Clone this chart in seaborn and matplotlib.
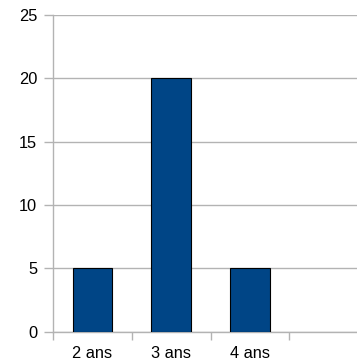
import matplotlib
matplotlib.use("Agg")
import matplotlib.pyplot as plt
import seaborn as sns
import pandas as pd
from matplotlib.ticker import FixedLocator

categories = ["2 ans", "3 ans", "4 ans"]
values = [5, 20, 5]
y_ticks = [0, 5, 10, 15, 20, 25]

sns.set_theme(style="white")
plt.rcParams["font.family"] = ["Liberation Sans", "DejaVu Sans"]

df = pd.DataFrame({"age": categories, "n": values})

fig = plt.figure(figsize=(3.57, 3.60), dpi=100)
ax = fig.add_axes([53 / 357, (360 - 331.7) / 360, (357 - 53) / 357, (331.7 - 15) / 360])

sns.barplot(data=df, x="age", y="n", color="#004586", saturation=1, width=0.5,
            edgecolor="black", linewidth=0.8, ax=ax, zorder=3)

grid_c = "#b3b3b3"
ax.set_ylim(0, 25)
ax.set_xlim(-0.5, (357 - 53) / 78.75 - 0.5)
ax.set_yticks(y_ticks)
ax.set_yticklabels([str(t) for t in y_ticks])
ax.yaxis.grid(True, color=grid_c, linewidth=1, zorder=0)
ax.set_axisbelow(True)

# boundaries between categories carry the tick marks, centres carry the labels
ax.xaxis.set_major_locator(FixedLocator([-0.5, 0.5, 1.5, 2.5]))
ax.set_xticklabels([])
ax.xaxis.set_minor_locator(FixedLocator([0, 1, 2]))
ax.set_xticklabels(categories, minor=True)
ax.tick_params(axis="x", which="major", length=6, width=1, color=grid_c, direction="out", bottom=True)
ax.tick_params(axis="x", which="minor", length=0, pad=10, labelsize=11.8, labelcolor="black")
ax.tick_params(axis="y", length=6.5, width=1, color=grid_c, direction="out", left=True,
               pad=5, labelsize=11.8, labelcolor="black")

for side in ["top", "right"]:
    ax.spines[side].set_visible(False)
ax.spines["left"].set_color(grid_c)
ax.spines["left"].set_linewidth(1)
ax.spines["bottom"].set_color(grid_c)
ax.spines["bottom"].set_linewidth(1)

ax.set_xlabel("")
ax.set_ylabel("")

fig.savefig("out.png", dpi=100)
